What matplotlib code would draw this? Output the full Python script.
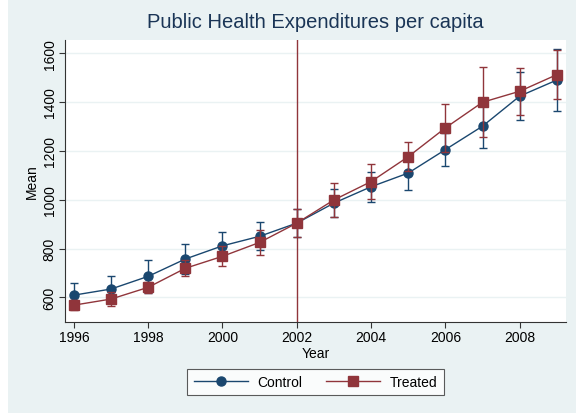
import numpy as np
import matplotlib
matplotlib.use("Agg")
import matplotlib.pyplot as plt
from matplotlib.patches import Rectangle
from matplotlib.lines import Line2D

plt.rcParams["font.family"] = ["Liberation Sans", "DejaVu Sans"]

years = [1996, 1997, 1998, 1999, 2000, 2001, 2002, 2003, 2004, 2005, 2006, 2007, 2008, 2009]
control_mean = [609, 634, 686, 757, 811, 850, 904, 986, 1053, 1109, 1205, 1301, 1424, 1490]
control_ci = [50, 55, 68, 60, 58, 57, 57, 56, 62, 71, 68, 89, 97, 126]
treated_mean = [568, 593, 641, 719, 768, 825, 904, 999, 1074, 1176, 1294, 1399, 1444, 1512]
treated_ci = [20, 27, 23, 33, 41, 50, 58, 70, 73, 59, 98, 144, 96, 100]
policy_year = 2002

navy = "#1a476f"
maroon = "#90353b"
bg = "#eaf2f3"

fig = plt.figure(figsize=(5.76, 4.14), dpi=100)
fig.patch.set_facecolor("white")
fig.patches.append(Rectangle((8 / 576, 0.0), 1 - 8 / 576, 413 / 414,
                             transform=fig.transFigure, facecolor=bg,
                             edgecolor="none", zorder=-10))

ax = fig.add_axes([0.1128, 0.2198, 0.9835 - 0.1128, 0.901 - 0.2198])
ax.set_facecolor("white")

ax.errorbar(years, control_mean, yerr=control_ci, color=navy, lw=1.0,
            marker="o", ms=6.5, capsize=2.8, elinewidth=1.0, capthick=1.0,
            zorder=3)
ax.errorbar(years, treated_mean, yerr=treated_ci, color=maroon, lw=1.0,
            marker="s", ms=6.5, capsize=2.8, elinewidth=1.0, capthick=1.0,
            zorder=4)
ax.axvline(policy_year, color=maroon, lw=1.0, zorder=2)

ax.set_xlim(1995.76, 2009.26)
ax.set_ylim(499, 1654)
ax.set_xticks(range(1996, 2010, 2))
ax.set_yticks(range(600, 1601, 200))
ax.grid(axis="y", color=bg, lw=1.0, zorder=0)
ax.set_axisbelow(True)

for s in ["top", "right"]:
    ax.spines[s].set_visible(False)
for s in ["left", "bottom"]:
    ax.spines[s].set_color("#333333")
    ax.spines[s].set_linewidth(0.8)
ax.tick_params(direction="out", length=4, width=0.8, color="#333333",
               labelsize=10, pad=2)
for lab in ax.get_yticklabels():
    lab.set_rotation(90)
    lab.set_va("center")

ax.set_xlabel("Year", fontsize=10, labelpad=1)
ax.set_ylabel("Mean", fontsize=10, labelpad=3)
fig.text(0.547, 0.945, "Public Health Expenditures per capita",
         ha="center", va="center", fontsize=14.5, color="#1a3556")

# legend shows plain line + marker, no error bars
handles = [Line2D([], [], color=navy, lw=1.0, marker="o", ms=6.5),
           Line2D([], [], color=maroon, lw=1.0, marker="s", ms=6.5)]
leg = fig.legend(handles, ["Control", "Treated"], loc="center",
                 bbox_to_anchor=(0.548, 0.075), ncol=2, fontsize=10,
                 frameon=True, fancybox=False, handlelength=3.9,
                 columnspacing=1.7, handletextpad=0.7, borderpad=0.45)
leg.get_frame().set_edgecolor("#333333")
leg.get_frame().set_linewidth(0.8)

fig.savefig("out.png", dpi=100)
